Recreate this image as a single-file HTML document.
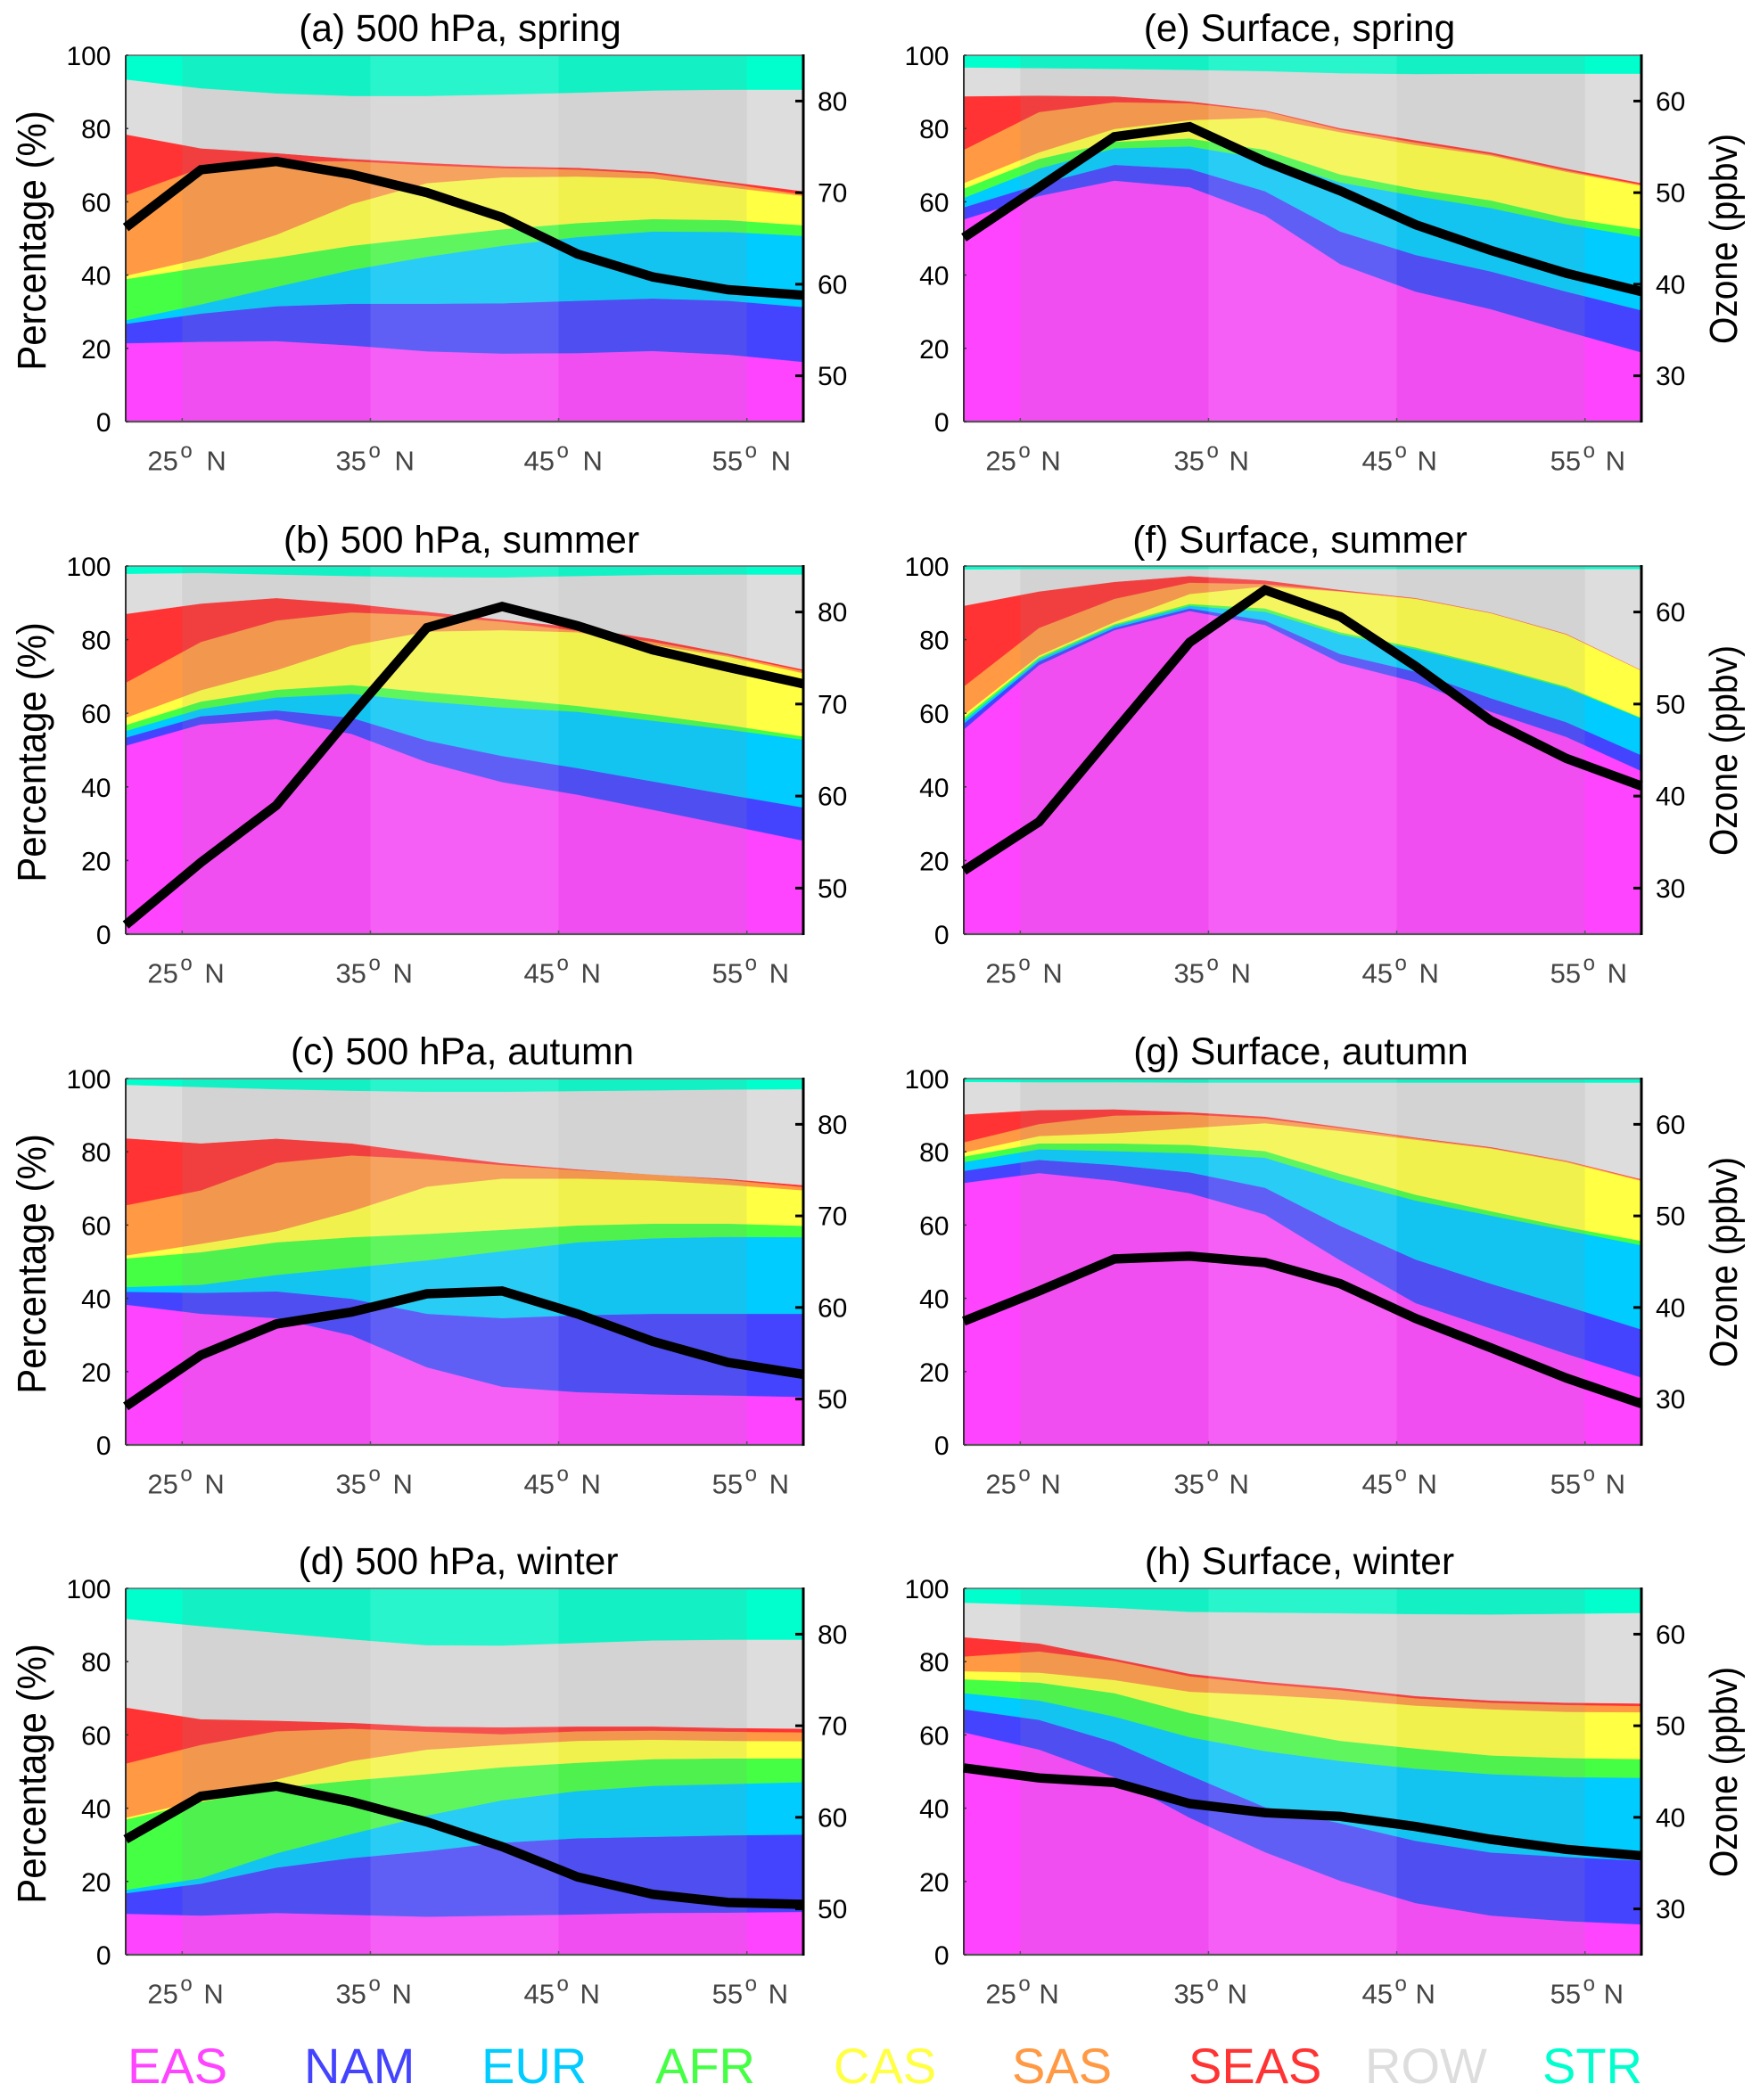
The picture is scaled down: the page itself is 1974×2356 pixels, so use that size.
<!DOCTYPE html>
<html lang="en">
<head>
<meta charset="utf-8">
<title>Ozone source attribution by latitude</title>
<style>
html,body{margin:0;padding:0;background:#fff;}
svg{display:block;font-family:"Liberation Sans",Arial,sans-serif;}
</style>
</head>
<body>
<svg id="figure" xmlns="http://www.w3.org/2000/svg" width="1974" height="2356" viewBox="0 0 1974 2356">
  <rect x="0" y="0" width="1974" height="2356" fill="#ffffff"/>

  <g id="plots"></g>

  <g font-size="42.5" fill="#000" text-anchor="middle">
    <text x="516" y="46">(a) 500 hPa, spring</text>
    <text x="517.5" y="620">(b) 500 hPa, summer</text>
    <text x="518.5" y="1194">(c) 500 hPa, autumn</text>
    <text x="514" y="1766">(d) 500 hPa, winter</text>
    <text x="1457.5" y="46">(e) Surface, spring</text>
    <text x="1458" y="620">(f) Surface, summer</text>
    <text x="1459" y="1194">(g) Surface, autumn</text>
    <text x="1457.5" y="1766">(h) Surface, winter</text>
  </g>

  <g font-size="45" fill="#000" text-anchor="middle">
    <text transform="translate(51 270) rotate(-90) scale(0.933 1)">Percentage (%)</text>
    <text transform="translate(51 844) rotate(-90) scale(0.933 1)">Percentage (%)</text>
    <text transform="translate(51 1418) rotate(-90) scale(0.933 1)">Percentage (%)</text>
    <text transform="translate(51 1990) rotate(-90) scale(0.933 1)">Percentage (%)</text>
  </g>
  <g font-size="44" fill="#000" text-anchor="middle">
    <text transform="translate(1948 268) rotate(-90) scale(0.886 1)">Ozone (ppbv)</text>
    <text transform="translate(1948 842) rotate(-90) scale(0.886 1)">Ozone (ppbv)</text>
    <text transform="translate(1948 1416) rotate(-90) scale(0.886 1)">Ozone (ppbv)</text>
    <text transform="translate(1948 1988) rotate(-90) scale(0.886 1)">Ozone (ppbv)</text>
  </g>

  <g font-size="56">
    <text x="143" y="2337" fill="#ff44ff">EAS</text>
    <text x="341" y="2337" fill="#4444ff">NAM</text>
    <text x="540" y="2337" fill="#00ccff">EUR</text>
    <text x="735" y="2337" fill="#44ff44">AFR</text>
    <text x="935" y="2337" fill="#ffff44">CAS</text>
    <text x="1135" y="2337" fill="#ff9944">SAS</text>
    <text x="1333" y="2337" fill="#ff3333">SEAS</text>
    <text x="1531" y="2337" fill="#dddddd">ROW</text>
    <text x="1730" y="2337" fill="#00ffcc">STR</text>
  </g>
</svg>

<script>
// Shared axes
const latitudes = [22, 26, 30, 34, 38, 42, 46, 50, 54, 58];
const latTicks = [25, 35, 45, 55];
const percentTicks = [0, 20, 40, 60, 80, 100];
const ozoneTicks500 = [50, 60, 70, 80];
const ozoneTicksSurface = [30, 40, 50, 60];
const regions = ['EAS', 'NAM', 'EUR', 'AFR', 'CAS', 'SAS', 'SEAS', 'ROW', 'STR'];
const regionColors = ['#ff44ff', '#4444ff', '#00ccff', '#44ff44', '#ffff44', '#ff9944', '#ff3333', '#dddddd', '#00ffcc'];

// Series values: upper edge of each stacked region (percent, cumulative from EAS up); STR always reaches 100.
// Panel a: 500 hPa, spring
const aEAS = [21.4, 21.8, 22, 20.8, 19.2, 18.6, 18.7, 19.3, 18.3, 16.3];
const aNAM = [26.7, 29.5, 31.5, 32.2, 32.2, 32.3, 33, 33.6, 33, 31.3];
const aEUR = [27.7, 32, 36.8, 41.4, 45, 48, 50.4, 51.9, 51.8, 50.7];
const aAFR = [38.9, 42.1, 44.8, 48, 50.3, 52.5, 54.2, 55.3, 55, 53.6];
const aCAS = [39.8, 44.5, 51, 59.4, 65.1, 66.7, 66.9, 66.4, 64, 61.6];
const aSAS = [61.8, 69.2, 71, 71.1, 70, 69.2, 68.8, 67.7, 65, 62];
const aSEAS = [78.4, 74.6, 73.3, 71.7, 70.6, 69.7, 69.3, 68.2, 65.5, 62.9];
const aROW = [93.4, 91, 89.6, 88.9, 88.9, 89.3, 89.8, 90.4, 90.6, 90.6];
const aOzone = [66.2, 72.5, 73.4, 72, 70, 67.3, 63.3, 60.8, 59.4, 58.8];

// Panel b: 500 hPa, summer
const bEAS = [51.2, 57, 58.4, 54.4, 46.7, 41.3, 37.9, 33.8, 29.6, 25.4];
const bNAM = [53.4, 59.2, 60.8, 58.8, 52.6, 48.4, 45.1, 41.5, 37.9, 34.4];
const bEUR = [55.2, 61.2, 64.3, 65.3, 63.2, 61.6, 60.4, 58, 55.6, 52.8];
const bAFR = [56.8, 63.2, 66.4, 67.7, 65.7, 64, 62, 59.6, 56.8, 53.7];
const bCAS = [58.8, 66.3, 71.7, 78.4, 82.2, 82.6, 82, 78.6, 75.4, 70.9];
const bSAS = [68.3, 79.4, 85.2, 87.4, 86.6, 84.9, 82.4, 79.4, 75.8, 71.5];
const bSEAS = [87, 89.8, 91.3, 89.8, 87.6, 85.4, 83.4, 80.2, 76.2, 71.9];
const bROW = [97.9, 98.1, 97.7, 97.3, 97, 96.9, 97.3, 97.6, 97.7, 97.7];
const bOzone = [46, 52.8, 59, 68.8, 78.3, 80.6, 78.5, 75.9, 74, 72.2];

// Panel c: 500 hPa, autumn
const cEAS = [38.3, 35.8, 34.6, 29.9, 21.2, 15.9, 14.4, 13.8, 13.5, 13.1];
const cNAM = [41.8, 41.5, 41.9, 39.9, 35.8, 34.6, 35.4, 35.8, 35.8, 35.8];
const cEUR = [43.1, 43.7, 46.4, 48.4, 50.4, 52.9, 55.3, 56.4, 56.8, 56.7];
const cAFR = [50.9, 52.6, 55.3, 56.7, 57.6, 58.7, 59.9, 60.4, 60.4, 59.8];
const cCAS = [51.7, 54.9, 58.3, 63.8, 70.5, 72.7, 72.7, 72.2, 71, 69.5];
const cSAS = [65.4, 69.5, 77, 79, 78, 76.4, 75, 73.9, 72.3, 70.4];
const cSEAS = [83.7, 82.3, 83.6, 82.3, 79.5, 76.9, 75.2, 73.8, 72.6, 70.9];
const cROW = [98.3, 97.7, 97.1, 96.7, 96.4, 96.4, 96.6, 96.8, 97, 97.1];
const cOzone = [49.2, 54.8, 58.2, 59.5, 61.5, 61.8, 59.3, 56.3, 54, 52.7];

// Panel d: 500 hPa, winter
const dEAS = [11.2, 10.7, 11.4, 10.9, 10.4, 10.7, 11, 11.4, 11.5, 11.7];
const dNAM = [16.8, 19.4, 23.8, 26.4, 28.3, 30.6, 31.8, 32.2, 32.6, 32.8];
const dEUR = [17.7, 20.9, 27.7, 33, 38, 42.2, 44.7, 46.1, 46.6, 47.1];
const dAFR = [36.9, 41.7, 45.6, 47.6, 49.3, 51.2, 52.4, 53.4, 53.6, 53.6];
const dCAS = [37.4, 42.2, 47.8, 52.9, 56, 57.3, 58.4, 58.7, 58.4, 58.3];
const dSAS = [52.2, 57.3, 61, 61.7, 60.9, 60.2, 61, 61.2, 60.9, 60.7];
const dSEAS = [67.5, 64.3, 63.9, 63.3, 62.3, 62.1, 62.3, 62.3, 61.9, 61.7];
const dROW = [91.7, 89.7, 87.9, 86.1, 84.5, 84.4, 85.1, 85.8, 86, 86];
const dOzone = [57.6, 62.3, 63.4, 61.7, 59.5, 56.8, 53.5, 51.6, 50.7, 50.5];

// Panel e: Surface, spring
const eEAS = [55.2, 61.6, 65.8, 64, 56.3, 43, 35.5, 30.7, 24.7, 18.9];
const eNAM = [58.5, 64.8, 70.1, 69, 62.9, 51.9, 45.5, 41, 35.5, 30.4];
const eEUR = [61.1, 69.1, 74.6, 75.1, 71.7, 65.3, 61.6, 58.3, 53.9, 50.4];
const eAFR = [63.6, 71.7, 76.4, 77.3, 74.2, 67.5, 63.5, 60.4, 55.6, 52.5];
const eCAS = [65.1, 73.5, 79.9, 82.3, 83, 79, 75.5, 72.6, 68.2, 64.4];
const eSAS = [74.2, 84.5, 87.2, 86.9, 84.8, 79.7, 76.2, 73, 68.6, 64.7];
const eSEAS = [88.8, 89, 88.8, 87.4, 85, 80.1, 76.8, 73.5, 69.1, 65.1];
const eROW = [96.7, 96.5, 96.3, 96, 95.7, 95.1, 94.9, 95, 95, 95];
const eOzone = [45.1, 50.6, 56.1, 57.2, 53.4, 50.2, 46.5, 43.7, 41.2, 39.2];

// Panel f: Surface, summer
const fEAS = [55.6, 73.1, 82.6, 87.8, 84, 73.7, 68.5, 60.4, 53.6, 44.3];
const fNAM = [57.2, 74.1, 83.2, 88.5, 85.2, 76.1, 71.3, 64.1, 57.6, 48.6];
const fEUR = [58, 74.7, 83.8, 89.2, 87.6, 81.4, 77.4, 72.5, 66.9, 58.6];
const fAFR = [58.8, 75.2, 84.2, 89.7, 88.5, 82, 77.9, 72.9, 67.3, 58.8];
const fCAS = [59.6, 75.7, 84.8, 92.4, 94.5, 93.1, 91.1, 87.2, 81.4, 71.6];
const fSAS = [67.3, 83.2, 91.1, 95.5, 95.1, 93.2, 91.2, 87.3, 81.5, 71.65];
const fSEAS = [89.2, 93.1, 95.7, 97.3, 96.1, 93.5, 91.3, 87.35, 81.6, 71.7];
const fROW = [99.1, 99.2, 99.2, 99.2, 99.2, 99.2, 99.2, 99.2, 99.2, 99.2];
const fOzone = [31.9, 37.2, 47, 56.7, 62.4, 59.5, 54.1, 48.2, 44.1, 41.1];

// Panel g: Surface, autumn
const gEAS = [71.5, 74.2, 72.1, 68.7, 62.9, 50.4, 38.7, 31.8, 24.9, 18.4];
const gNAM = [74.8, 77.8, 76.4, 74.4, 70.2, 59.8, 50.6, 44, 37.9, 31.5];
const gEUR = [77.2, 80.7, 80.2, 79.6, 78.4, 72.1, 66.7, 62.6, 58.6, 54.5];
const gAFR = [78.7, 82.3, 82.3, 81.9, 80.2, 74, 68.3, 63.8, 59.5, 55.7];
const gCAS = [79.8, 84.3, 85.1, 86.5, 87.8, 85.7, 83.3, 80.9, 77.2, 72.1];
const gSAS = [82.6, 87.6, 89.9, 90.2, 89.1, 86.5, 83.7, 81.1, 77.5, 72.3];
const gSEAS = [90.2, 91.4, 91.6, 90.8, 89.6, 86.8, 83.9, 81.3, 77.6, 72.5];
const gROW = [99.1, 99, 99, 98.9, 98.9, 98.9, 98.9, 98.9, 98.9, 98.9];
const gOzone = [38.5, 41.8, 45.3, 45.6, 44.9, 42.6, 38.8, 35.6, 32.3, 29.5];

// Panel h: Surface, winter
const hEAS = [60.7, 56, 48.5, 37.4, 28, 20.2, 14.1, 10.7, 9.2, 8.3];
const hNAM = [67, 64.1, 58, 49, 40.3, 35.9, 31.1, 27.9, 26.7, 25.7];
const hEUR = [71.4, 69.4, 65, 59.4, 55.6, 52.9, 50.8, 49.3, 48.5, 48.3];
const hAFR = [75.2, 74.3, 71.4, 66, 62.1, 58.4, 56.3, 54.4, 53.7, 53.4];
const hCAS = [77.4, 77, 75, 71.8, 70.9, 69.7, 68, 67, 66.3, 66.2];
const hSAS = [81.4, 82.8, 80.2, 76, 73.9, 72.2, 70, 68.8, 68.2, 67.9];
const hSEAS = [86.7, 85, 80.8, 76.7, 74.5, 72.8, 70.6, 69.4, 68.8, 68.6];
const hROW = [96.1, 95.5, 94.7, 93.6, 93.4, 93.2, 93, 92.9, 93.1, 93.3];
const hOzone = [45.4, 44.3, 43.8, 41.5, 40.5, 40.1, 39, 37.6, 36.5, 35.8];

const topEdge = [100, 100, 100, 100, 100, 100, 100, 100, 100, 100];

const NS = 'http://www.w3.org/2000/svg';
const root = document.getElementById('plots');

function make(tag, attrs, parent) {
  const el = document.createElementNS(NS, tag);
  for (const k in attrs) el.setAttribute(k, attrs[k]);
  parent.appendChild(el);
  return el;
}

function drawPanel(key, box, edges, ozone, ozoneRange, ozoneTicks, nGap) {
  const xScale = lat => box.left + (lat - latitudes[0]) / (latitudes[latitudes.length - 1] - latitudes[0]) * (box.right - box.left);
  const yScale = pct => box.bottom - pct / 100 * (box.bottom - box.top);
  const ozScale = v => box.bottom - (v - ozoneRange[0]) / (ozoneRange[1] - ozoneRange[0]) * (box.bottom - box.top);

  const g = make('g', {}, root);
  
  

  // stacked regions
  edges.forEach((upper, i) => {
    const lower = i === 0 ? null : edges[i - 1];
    const pts = [];
    upper.forEach((v, j) => pts.push(xScale(latitudes[j]).toFixed(1) + ',' + yScale(v).toFixed(1)));
    for (let j = latitudes.length - 1; j >= 0; j--) {
      pts.push(xScale(latitudes[j]).toFixed(1) + ',' + yScale(lower ? lower[j] : 0).toFixed(1));
    }
    const area = make('polygon', { points: pts.join(' '), fill: regionColors[i], stroke: regionColors[i], 'stroke-width': 0.4 }, g);
    
    
  });

  // latitude shading bands
  const bandFills = ['rgba(150,150,150,0.13)', 'rgba(205,205,205,0.2)', 'rgba(150,150,150,0.13)'];
  bandFills.forEach((fill, i) => {
    const band = make('rect', {
      x: xScale(latTicks[i]), y: box.top,
      width: xScale(latTicks[i + 1]) - xScale(latTicks[i]),
      height: box.bottom - box.top, fill: fill
    }, g);
    
    
  });

  // frame
  const frame = [
    [box.left, box.top, box.right, box.top, '#666', 1.6],
    [box.left, box.top, box.left, box.bottom, '#333', 2],
    [box.left, box.bottom, box.right, box.bottom, '#555', 2.2]
  ];
  frame.forEach(f => {
    const ln = make('line', { x1: f[0], y1: f[1], x2: f[2], y2: f[3], stroke: f[4], 'stroke-width': f[5] }, g);
    
    
  });

  // x ticks + labels
  latTicks.forEach(t => {
    const tk = make('line', { x1: xScale(t), y1: box.bottom, x2: xScale(t), y2: box.bottom - 4, stroke: '#555', 'stroke-width': 1.5 }, g);
    
    
    const x0 = xScale(t) - 39;
    const label = make('text', { x: x0, y: box.bottom + 54.5, 'font-size': 31, fill: '#444' }, g);
    
    
    label.textContent = String(t);
    const deg = make('tspan', { x: x0 + 37, y: box.bottom + 40.5, 'font-size': 24 }, label);
    deg.textContent = 'o';
    const n = make('tspan', { x: x0 + 50 + nGap, y: box.bottom + 54.5 }, label);
    n.textContent = 'N';
  });

  // left ticks + labels
  percentTicks.forEach(t => {
    const tk = make('line', { x1: box.left, y1: yScale(t), x2: box.left + 3, y2: yScale(t), stroke: '#333', 'stroke-width': 1.5 }, g);
    
    
    const label = make('text', { x: box.left - 16.5, y: yScale(t) + 11, 'font-size': 30, fill: '#000', 'text-anchor': 'end' }, g);
    
    
    label.textContent = String(t);
  });

  // ozone line
  const linePts = ozone.map((v, j) => xScale(latitudes[j]).toFixed(1) + ',' + ozScale(v).toFixed(1)).join(' ');
  const line = make('polyline', { points: linePts, fill: 'none', stroke: '#000', 'stroke-width': 10.5, 'stroke-linejoin': 'miter', 'stroke-linecap': 'butt' }, g);
  
  

  // right axis
  const rightAxis = make('line', { x1: box.right, y1: box.top - 1, x2: box.right, y2: box.bottom + 1, stroke: '#000', 'stroke-width': 3 }, g);
  
  
  ozoneTicks.forEach(t => {
    const tk = make('line', { x1: box.right - 9, y1: ozScale(t), x2: box.right, y2: ozScale(t), stroke: '#000', 'stroke-width': 3 }, g);
    
    
    const label = make('text', { x: box.right + 16, y: ozScale(t) + 10.5, 'font-size': 30, fill: '#000' }, g);
    
    
    label.textContent = String(t);
  });
}

const rangeUpper = [45, 85];
const rangeSurface = [25, 65];
const colLeft = { left: 141, right: 901 };
const colRight = { left: 1081, right: 1841 };
const rows = [
  { top: 62, bottom: 473 },
  { top: 635, bottom: 1048 },
  { top: 1210, bottom: 1621 },
  { top: 1782, bottom: 2193 }
];
const box = (col, row) => ({ left: col.left, right: col.right, top: row.top, bottom: row.bottom });

drawPanel('a', box(colLeft, rows[0]), [aEAS, aNAM, aEUR, aAFR, aCAS, aSAS, aSEAS, aROW, topEdge], aOzone, rangeUpper, ozoneTicks500, 16);
drawPanel('b', box(colLeft, rows[1]), [bEAS, bNAM, bEUR, bAFR, bCAS, bSAS, bSEAS, bROW, topEdge], bOzone, rangeUpper, ozoneTicks500, 14);
drawPanel('c', box(colLeft, rows[2]), [cEAS, cNAM, cEUR, cAFR, cCAS, cSAS, cSEAS, cROW, topEdge], cOzone, rangeUpper, ozoneTicks500, 14);
drawPanel('d', box(colLeft, rows[3]), [dEAS, dNAM, dEUR, dAFR, dCAS, dSAS, dSEAS, dROW, topEdge], dOzone, rangeUpper, ozoneTicks500, 13);
drawPanel('e', box(colRight, rows[0]), [eEAS, eNAM, eEUR, eAFR, eCAS, eSAS, eSEAS, eROW, topEdge], eOzone, rangeSurface, ozoneTicksSurface, 12);
drawPanel('f', box(colRight, rows[1]), [fEAS, fNAM, fEUR, fAFR, fCAS, fSAS, fSEAS, fROW, topEdge], fOzone, rangeSurface, ozoneTicksSurface, 14);
drawPanel('g', box(colRight, rows[2]), [gEAS, gNAM, gEUR, gAFR, gCAS, gSAS, gSEAS, gROW, topEdge], gOzone, rangeSurface, ozoneTicksSurface, 12);
drawPanel('h', box(colRight, rows[3]), [hEAS, hNAM, hEUR, hAFR, hCAS, hSAS, hSEAS, hROW, topEdge], hOzone, rangeSurface, ozoneTicksSurface, 10);
</script>
</body>
</html>
